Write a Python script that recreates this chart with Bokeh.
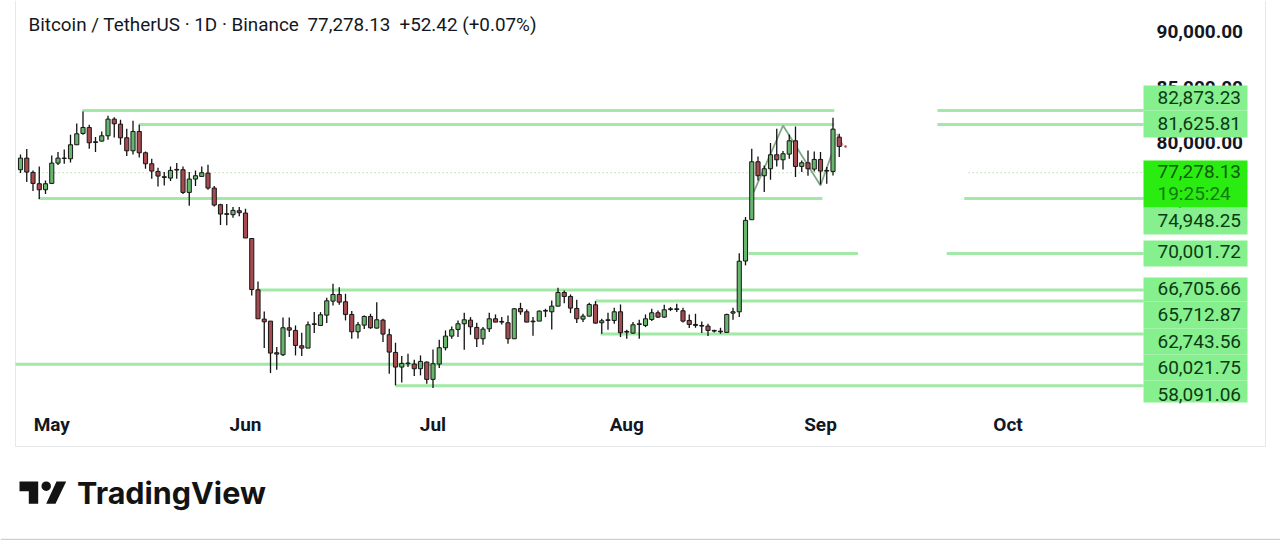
from bokeh.plotting import figure
from bokeh.models import LinearAxis, FixedTicker, NumeralTickFormatter, Range1d, ColumnDataSource
from bokeh.core.properties import value
from bokeh.embed import file_html
from bokeh.resources import INLINE

highs = [78925,79405,77485,77845,76585,78835,79135,79375,80695,81715,82795,81595,80485,80995,82405,82285,82045,81235,81955,81595,79195,78535,77725,77335,77845,78145,77845,77335,77485,77845,77995,76075,74485,74455,74185,74185,74035,71400,
 67479,64779,63909,61569,64239,64239,63519,62859,63879,64719,64719,66009,67269,66969,66369,64809,63819,64419,64569,65619,64119,63219,61959,60759,60969,60429,60819,60279,61359,62229,63069,63429,63969,64659,64269,63759,63369,64659,64509,64269,64419,
 65079,65559,64959,64269,64869,65019,65769,66909,66669,66309,65829,64569,65559,65709,64119,64659,65109,65409,63129,63819,64029,64509,65019,64869,65379,65169,65469,65109,64509,64569,63879,63669,63129,63309,64569,65109,70027,
 73284,79434,78744,77934,79944,81234,79224,80724,81444,78384,79284,79194,79134,77784,82224,80784,79674]
tops = [78595,78595,77305,76285,76285,78145,78595,78595,79795,80785,81355,81355,80065,80605,82105,82105,81655,80425,80995,80995,79075,78085,77395,76915,77485,77575,77545,76705,77005,77275,77245,75895,74395,73585,73885,73855,73645,71352,
 66729,64089,63909,61059,63309,63309,63069,61689,63579,63669,64479,65739,66309,66309,65649,64509,63579,64329,64329,64029,63999,62679,61089,60099,60129,60039,60279,60219,60069,61509,62559,63129,63669,64029,63999,63339,63189,64119,64119,63879,63759,
 65019,65049,64749,63909,64809,64869,65259,66489,66489,66129,65049,64359,65409,65379,63939,64029,64749,64749,62979,63579,63669,64119,64659,64659,64929,65019,65019,64839,63969,63609,63519,63459,63069,63009,64509,64749,69307,
 72984,78264,78264,77634,78894,78894,78984,80154,80154,78174,78174,78474,78474,77484,81204,80484,79674]
bottoms = [77545,77335,76315,75745,75745,76315,78145,78565,78535,79795,80815,79975,80005,80125,80605,81685,80425,79255,79255,79075,78085,77425,76975,76855,76795,77515,75505,75505,76705,76945,75895,74365,73555,73525,73495,73675,71395,66757,
 64119,63849,61029,60939,60879,63099,61719,61479,61479,63609,63519,64449,65709,65619,64509,62949,62949,63549,63309,63279,62739,61119,59769,59769,60069,59619,59619,58659,58659,60039,61509,62559,63159,63669,63399,62319,62319,63219,63819,63819,62319,
 62319,64749,63819,63849,63909,64809,64749,65259,66129,65079,64119,64089,64359,63729,63759,63969,63969,62859,62919,62829,63609,63519,64059,64269,64269,64959,64959,63909,63609,63519,63459,63069,63009,62949,62889,64629,64749,
 69324,73044,77004,77004,77634,78444,78444,78954,77844,77844,77634,77604,77424,77424,77394,79644,79644]
lows = [77245,76435,75625,74905,75355,76285,77965,78085,78205,79795,80695,79435,79135,80095,80245,80455,79795,78775,78925,78655,77635,76735,76045,76135,76525,76735,75355,74305,76075,76885,75745,74245,72565,72535,73225,73345,71395,66216,
 64119,61479,59229,59529,60759,62469,60819,60759,61479,62829,63489,63729,65319,65379,63969,62319,62349,63189,63219,63249,62019,59169,58119,58389,59769,58959,59019,58269,57879,59679,61269,62319,62469,61329,62679,61569,61779,62919,63819,63609,61869,
 62319,64479,63819,62589,63909,64269,63159,65259,65529,64629,63729,63819,64329,63669,62769,63129,63669,62469,62319,62769,62319,63369,63909,64179,64209,64809,64719,63789,63279,63309,62829,62559,62889,62769,62829,64029,64269,
 68934,73044,76584,75534,76644,77844,77574,78534,76884,77334,77004,77394,76224,76284,77034,78684,79644]
rising = [1,0,0,0,1,1,1,1,1,1,1,0,0,1,1,0,0,0,1,0,0,0,0,0,1,1,0,1,1,1,0,0,0,0,1,0,0,0,
 0,0,0,0,1,0,0,0,1,1,1,1,1,0,0,0,1,1,0,1,0,0,0,1,1,0,1,0,1,1,1,1,1,1,0,0,1,1,0,1,0,
 1,0,0,1,1,1,1,1,0,0,0,1,1,0,1,1,1,0,1,1,1,1,1,0,1,1,1,0,0,1,1,0,1,1,1,1,1,
 1,1,0,1,1,0,1,1,0,1,0,1,0,1,1,0,0]

tick_days = [5, 36, 66, 97, 128, 158]
tick_months = ["May", "Jun", "Jul", "Aug", "Sep", "Oct"]
price_ticks = [60000, 65000, 70000, 75000, 80000, 85000, 90000]

level_prices = [82873.23, 81625.81, 74948.25, 70001.72, 66705.66, 65712.87, 62743.56, 60021.75, 58091.06]
level_start = [9.9, 18.9, 2.9, 116.5, 38, 92, 92.8, -0.8, 60]
level_end = [130.2, 130.2, 128.3, 134, 179.7, 179.7, 179.7, 179.7, 179.7]
gap_prices = [82873.23, 81625.81, 74948.25, 70001.72]
gap_start = [146.7, 146.7, 151, 148.2]
gap_end = [179.7, 179.7, 179.7, 179.7]
last_price = 77278.13

zig_days = [117.3, 122, 128, 130]
zig_prices = [75520, 81530, 76130, 79280]
tail_days = [130.6, 131.6]
tail_prices = [80780, 79730]

PX_PER_DAY = 6.25
PX_PER_K = 11.1
def px(x):
    return (x - 20) / PX_PER_DAY
def py(y):
    return 80000 + (142 - y) * 1000 / PX_PER_K

p = figure(width=1280, height=540, output_backend="svg", toolbar_location=None,
           x_range=Range1d(px(0), px(1280)), y_range=Range1d(py(540), py(0)),
           x_axis_type=None, y_axis_type=None, min_border=0,
           background_fill_color="white", border_fill_color="white", outline_line_color=None)
p.grid.visible = False

# frame
FR = "#e6e8ec"
p.segment([px(15), px(1265), px(15)], [py(0), py(0), py(446)], [px(15), px(1265), px(1265)], [py(446), py(446), py(446)],
          line_color=FR, line_width=1)
p.segment([px(0)], [py(539)], [px(1280)], [py(539)], line_color="#d0d0d0", line_width=1.5)

# levels
LC = "#a2e8a6"
p.segment(level_start, level_prices, level_end, level_prices, line_color=LC, line_width=3)
p.segment(gap_start, gap_prices, gap_end, gap_prices, line_color=LC, line_width=3)
p.segment([-0.3, 151.7], [last_price] * 2, [130.5, 179.7], [last_price] * 2,
          line_color="#a9d79a", line_width=1.2, line_dash="1 3")
p.line(zig_days, zig_prices, line_color="#7fa987", line_width=1.8)
p.line(tail_days, tail_prices, line_color="#d9a0a0", line_width=1.8)

# candles (the live candle at the end is faint in the original)
days = list(range(len(highs)))
n = len(highs)
src = ColumnDataSource(dict(d=days[:-1], h=highs[:-1], l=lows[:-1], t=tops[:-1], b=bottoms[:-1],
                            c=["#68b56c" if r else "#a54b4f" for r in rising[:-1]]))
p.segment("d", "h", "d", "l", source=src, line_color="#111111", line_width=1.3)
p.vbar("d", 0.66, "b", "t", source=src, fill_color="c", line_color="#161616", line_width=1)
p.scatter([days[-1]], [closes] if False else [bottoms[-1]], size=2.5, fill_color="#a54b4f", line_color=None)

# axes
yax = LinearAxis(ticker=FixedTicker(ticks=price_ticks), formatter=NumeralTickFormatter(format="0,0.00"),
                 fixed_location=px(1150), axis_line_color=None, major_tick_line_color=None, minor_tick_line_color=None,
                 major_tick_out=0, major_tick_in=0, minor_tick_out=0,
                 major_label_text_font="Roboto", major_label_text_font_size="19px", major_label_text_font_style="bold",
                 major_label_text_color="#131722", major_label_standoff=6)
p.add_layout(yax, "right")
xax = LinearAxis(ticker=FixedTicker(ticks=tick_days),
                 major_label_overrides={d: m for d, m in zip(tick_days, tick_months)},
                 fixed_location=py(410), axis_line_color=None, major_tick_line_color=None, minor_tick_line_color=None,
                 major_tick_out=0, major_tick_in=0, minor_tick_out=0,
                 major_label_text_font="Roboto", major_label_text_font_size="19px", major_label_text_font_style="bold",
                 major_label_text_color="#131722", major_label_standoff=2)
p.add_layout(xax, "below")

# price tags
B1 = "#86ef8e"
tag_tops = [85, 110, 207, 240, 277, 301, 328, 354, 380]
tag_bots = [110, 137, 234, 266, 301, 328, 354, 380, 402]
p.quad(left=[px(1143)] * 9, right=[px(1247)] * 9, top=[py(t) for t in tag_tops], bottom=[py(b) for b in tag_bots],
       fill_color=B1, line_color=None, level="overlay")
p.quad(left=[px(1143)], right=[px(1247)], top=[py(160)], bottom=[py(207)], fill_color="#2bec10", line_color=None, level="overlay")

tag_text = ["82,873.23", "81,625.81", "74,948.25", "70,001.72", "66,705.66", "65,712.87", "62,743.56", "60,021.75", "58,091.06"]
tag_y = [97, 123, 220, 251, 288, 314, 341, 367, 394]
p.text([px(1157)] * 9, [py(y) for y in tag_y], text=tag_text, text_font=value("Roboto"), text_font_size="19px",
       text_color="#0b3b14", text_baseline="middle", level="overlay")
p.text([px(1157)], [py(171)], text=["77,278.13"], text_font=value("Roboto"), text_font_size="19px",
       text_color="#0d5a0d", text_baseline="middle", level="overlay")
p.text([px(1157)], [py(193)], text=["19:25:24"], text_font=value("Roboto"), text_font_size="19px",
       text_color="#127a12", text_baseline="middle", level="overlay")

# legend
for x, t in [(28, "Bitcoin / TetherUS · 1D · Binance"), (307, "77,278.13"), (399, "+52.42 (+0.07%)")]:
    p.text([px(x)], [py(24)], text=[t], text_font=value("Roboto"), text_font_size="18.85px",
           text_color="#131722", text_baseline="middle", level="overlay")

# logo
K = "#131313"
p.patch([px(v) for v in (19, 37.7, 37.7, 28.3, 28.3, 19)], [py(v) for v in (481, 481, 503.3, 503.3, 490.7, 490.7)],
        fill_color=K, line_color=None)
p.patch([px(v) for v in (56, 65.7, 55, 45.7)], [py(v) for v in (481, 481, 503.3, 503.3)], fill_color=K, line_color=None)
p.scatter([px(45.7)], [py(485.7)], size=9.5, fill_color=K, line_color=None)
p.text([px(76.5)], [py(492)], text=["TradingView"], text_font=value("Inter"), text_font_size="30.5px", text_font_style="bold",
       text_color=K, text_baseline="middle")

open("out.html", "w").write(file_html(p, INLINE))
